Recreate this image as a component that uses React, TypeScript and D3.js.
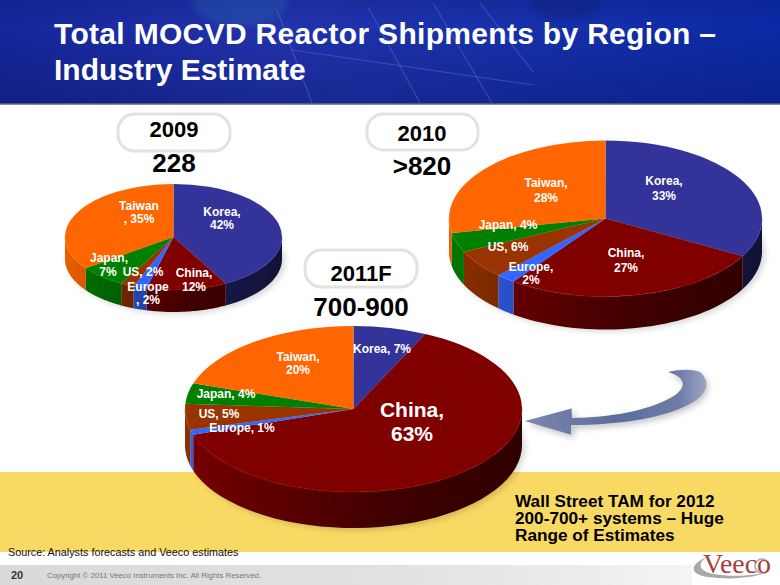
import React from "react";
import * as d3 from "d3";

const regions = ["Korea", "China", "Europe", "US", "Japan", "Taiwan"];
const regionColors = ["#333399", "#800000", "#3366ff", "#993300", "#008000", "#ff6600"];
const values2009 = [42, 12, 2, 2, 7, 35];
const values2010 = [33, 27, 2, 6, 4, 28];
const values2011 = [7, 63, 1, 5, 4, 20];

const titleLines = ["Total MOCVD Reactor Shipments by Region –", "Industry Estimate"];
const tamLines = ["Wall Street TAM for 2012", "200-700+ systems – Huge", "Range of Estimates"];
const sourceText = "Source: Analysts forecasts and Veeco estimates";
const copyrightText = "Copyright © 2011 Veeco Instruments Inc. All Rights Reserved.";
const pageNumber = "20";

type Label = { t: string; x: number; y: number; s?: number };

const labels2009: Label[] = [
  { t: "Korea,", x: 222, y: 216 }, { t: "42%", x: 222, y: 229 },
  { t: "Taiwan", x: 139, y: 210 }, { t: ", 35%", x: 139, y: 223 },
  { t: "Japan,", x: 109, y: 262 }, { t: "7%", x: 108, y: 276 },
  { t: "US, 2%", x: 143, y: 276 },
  { t: "Europe", x: 148, y: 291 }, { t: ", 2%", x: 148, y: 304 },
  { t: "China,", x: 194, y: 277 }, { t: "12%", x: 194, y: 291 },
];
const labels2010: Label[] = [
  { t: "Korea,", x: 664, y: 185 }, { t: "33%", x: 664, y: 200 },
  { t: "Taiwan,", x: 546, y: 187 }, { t: "28%", x: 546, y: 202 },
  { t: "Japan, 4%", x: 508, y: 229 },
  { t: "US, 6%", x: 508, y: 251 },
  { t: "Europe,", x: 531, y: 271 }, { t: "2%", x: 531, y: 284 },
  { t: "China,", x: 626, y: 257 }, { t: "27%", x: 626, y: 272 },
];
const labels2011: Label[] = [
  { t: "Korea, 7%", x: 382, y: 353 },
  { t: "Taiwan,", x: 298, y: 361 }, { t: "20%", x: 298, y: 374 },
  { t: "Japan, 4%", x: 226, y: 398 },
  { t: "US, 5%", x: 219, y: 418 },
  { t: "Europe, 1%", x: 242, y: 432 },
  { t: "China,", x: 412, y: 417, s: 21 }, { t: "63%", x: 412, y: 441, s: 21 },
];

const FONT = "'Liberation Sans', Arial, sans-serif";

const pieGen = d3.pie<number>().sort(null).value((d) => d);

function shade(c: string, k: number) {
  const r = d3.rgb(c);
  return d3.rgb(r.r * k, r.g * k, r.b * k).formatRgb();
}

function Pie3D({ id, values, cx, cy, rx, ry, depth, labels }: {
  id: string; values: number[]; cx: number; cy: number; rx: number; ry: number; depth: number; labels: Label[];
}) {
  const slices = pieGen(values);
  const arc = d3.arc<d3.PieArcDatum<number>>().innerRadius(0).outerRadius(rx);
  const x = (a: number) => cx + rx * Math.sin(a);
  const y = (a: number) => cy - ry * Math.cos(a);
  const line = d3.line<[number, number]>();
  const front = (s: d3.PieArcDatum<number>) => {
    const a0 = Math.max(s.startAngle, Math.PI / 2);
    const a1 = Math.min(s.endAngle, (3 * Math.PI) / 2);
    if (a1 <= a0) return null;
    return d3.range(0, 41).map((i) => a0 + ((a1 - a0) * i) / 40);
  };
  return (
    <g>
      <defs>
        {slices.map((s, i) => (
          <linearGradient key={i} id={`${id}-w${i}`} gradientUnits="userSpaceOnUse" x1={cx - rx} x2={cx + rx} y1={0} y2={0}>
            <stop offset="0" stopColor={shade(regionColors[i], 0.92)} />
            <stop offset="0.25" stopColor={shade(regionColors[i], 0.74)} />
            <stop offset="0.6" stopColor={shade(regionColors[i], 0.5)} />
            <stop offset="1" stopColor={shade(regionColors[i], 0.36)} />
          </linearGradient>
        ))}
      </defs>
      <ellipse cx={cx + 3} cy={cy + depth + 2} rx={rx} ry={ry} fill="#000" opacity={0.16} filter="url(#softShadow)" />
      {slices.map((s, i) => {
        const angles = front(s);
        if (!angles) return null;
        const topPts = angles.map((a) => [x(a), y(a)] as [number, number]);
        const botPts = angles.slice().reverse().map((a) => [x(a), y(a) + depth] as [number, number]);
        return <path key={i} d={line([...topPts, ...botPts])! + "Z"} fill={`url(#${id}-w${i})`} />;
      })}
      <g transform={`translate(${cx},${cy}) scale(1,${ry / rx})`}>
        {slices.map((s, i) => (
          <path key={i} d={arc(s)!} fill={regionColors[i]} />
        ))}
      </g>
      {slices.map((s, i) => {
        const angles = front(s);
        if (!angles) return null;
        return (
          <path key={i} d={line(angles.map((a) => [x(a), y(a)] as [number, number]))!} fill="none"
            stroke={d3.rgb(regionColors[i]).brighter(0.7).formatRgb()} strokeWidth={0.8} opacity={0.6} />
        );
      })}
      {labels.map((l, i) => (
        <text key={i} x={l.x} y={l.y} textAnchor="middle" fill="#fff" fontFamily={FONT} fontWeight="bold" fontSize={l.s ?? 12}>
          {l.t}
        </text>
      ))}
    </g>
  );
}

function Pill({ x, y, w, h, text, tx, ty, value, vy }: {
  x: number; y: number; w: number; h: number; text: string; tx: number; ty: number; value: string; vy: number;
}) {
  return (
    <g fontFamily={FONT} fontWeight="bold" textAnchor="middle" fill="#000">
      <rect x={x} y={y} width={w} height={h} rx={h / 2 - 2} fill="#fff" stroke="#e2e2e2" strokeWidth={3} />
      <text x={tx} y={ty} fontSize={22}>{text}</text>
      <text x={tx} y={vy} fontSize={26}>{value}</text>
    </g>
  );
}

export default function App() {
  return (
    <svg width={780} height={585} viewBox="0 0 780 585" style={{ position: "absolute", left: 0, top: 0, display: "block" }}>
      <defs>
        <linearGradient id="hdr" x1="0" x2="1" y1="0" y2="0">
          <stop offset="0" stopColor="#16269a" />
          <stop offset="0.35" stopColor="#2233ad" />
          <stop offset="0.7" stopColor="#1530ab" />
          <stop offset="1" stopColor="#0c2aa6" />
        </linearGradient>
        <linearGradient id="hdrShade" x1="0" x2="0" y1="0" y2="1">
          <stop offset="0" stopColor="#05104f" stopOpacity="0.18" />
          <stop offset="0.25" stopColor="#05104f" stopOpacity="0" />
          <stop offset="1" stopColor="#05104f" stopOpacity="0.3" />
        </linearGradient>
        <linearGradient id="footer" x1="0" x2="1" y1="0" y2="0">
          <stop offset="0" stopColor="#d9d9d9" />
          <stop offset="0.6" stopColor="#e2e2e2" />
          <stop offset="1" stopColor="#f4f4f4" />
        </linearGradient>
        <linearGradient id="arrowFill" x1="0" x2="1" y1="0" y2="0">
          <stop offset="0" stopColor="#7b88ae" />
          <stop offset="0.5" stopColor="#5c6c9c" />
          <stop offset="0.85" stopColor="#6f7ca8" />
          <stop offset="1" stopColor="#9aa5c4" />
        </linearGradient>
        <filter id="softShadow" x="-20%" y="-20%" width="140%" height="140%">
          <feGaussianBlur stdDeviation="3" />
        </filter>
      </defs>

      <rect width={780} height={585} fill="#fff" />

      {/* header */}
      <rect width={780} height={104} fill="url(#hdr)" />
      <rect width={780} height={104} fill="url(#hdrShade)" />
      <ellipse cx={240} cy={0} rx={48} ry={26} fill="#2c6fb0" opacity={0.3} filter="url(#softShadow)" />
      <ellipse cx={565} cy={3} rx={35} ry={16} fill="#0a1a70" opacity={0.35} filter="url(#softShadow)" />
      <g stroke="#7d8ce0" strokeOpacity={0.32} fill="none" strokeWidth={1.2}>
        <path d="M292,50 L533,85" />
        <path d="M277,10 L312,103" />
        <path d="M368,7 L420,103" />
        <path d="M433,3 L492,103" />
        <path d="M480,3 L533,72" />
      </g>
      <rect y={103.5} width={780} height={1.5} fill="#8a8a8a" />
      <g fill="#fff" fontFamily={FONT} fontWeight="bold" fontSize={30}>
        <text x={54} y={44} textLength={662} lengthAdjust="spacing">{titleLines[0]}</text>
        <text x={54} y={80}>{titleLines[1]}</text>
      </g>

      {/* yellow band */}
      <rect y={472} width={780} height={80} fill="#f8d964" />

      {/* footer */}
      <rect y={565} width={692} height={20} fill="url(#footer)" />
      <text x={8} y={556} fontFamily={FONT} fontSize={10.8} fill="#111">{sourceText}</text>
      <text x={11} y={579} fontFamily={FONT} fontSize={11} fontWeight="bold" fill="#333">{pageNumber}</text>
      <text x={47} y={578} fontFamily={FONT} fontSize={7.8} fill="#777">{copyrightText}</text>

      {/* logo */}
      <g>
        <path d="M707,557 C690,564 688,574 708,577 C730,580 755,578 768,572 C752,576 730,577 714,574 C698,571 697,563 707,557 Z" fill="#a9a9a9" />
        <circle cx={762} cy={566} r={7} fill="none" stroke="#a9a9a9" strokeWidth={1.6} />
        <text x={703} y={573} fontFamily="'Liberation Serif', serif" fontSize={27} fill="#a5403c" textLength={68} lengthAdjust="spacingAndGlyphs">Veeco</text>
      </g>

      <Pill x={118} y={114} w={112} h={37} text="2009" tx={174} ty={137} value="228" vy={172} />
      <Pill x={367} y={114} w={111} h={36} text="2010" tx={422} ty={141} value=">820" vy={175} />
      <Pill x={305} y={250} w={112} h={37} text="2011F" tx={361} ty={281} value="700-900" vy={316} />

      <Pie3D id="p09" values={values2009} cx={173.5} cy={237} rx={108.5} ry={53} depth={22} labels={labels2009} />
      <Pie3D id="p10" values={values2010} cx={605.5} cy={218.5} rx={156.5} ry={78} depth={33} labels={labels2010} />
      <Pie3D id="p11" values={values2011} cx={353.5} cy={409} rx={168.5} ry={83} depth={36} labels={labels2011} />

      {/* arrow */}
      <path d="M525,421 L570,409 L572,408 L573,418 C610,417 645,412 672,397 C686,389 688,378 668,372 C680,369 692,369 700,372 C711,382 708,394 690,404 C660,420 610,425 573,425 L572,435 Z"
        fill="#333" opacity={0.28} filter="url(#softShadow)" transform="translate(2,3)" />
      <path d="M525,421 L570,409 L572,408 L573,418 C610,417 645,412 672,397 C686,389 688,378 668,372 C680,369 692,369 700,372 C711,382 708,394 690,404 C660,420 610,425 573,425 L572,435 Z"
        fill="url(#arrowFill)" />
      <path d="M572,408 L573,418 M572,425 L572,435" stroke="#e8ebf4" strokeWidth={1.4} fill="none" />

      {/* TAM text */}
      <g fontFamily={FONT} fontWeight="bold" fontSize={17.2} fill="#000">
        {tamLines.map((t, i) => (
          <text key={i} x={515} y={507 + i * 17}>{t}</text>
        ))}
      </g>
    </svg>
  );
}
